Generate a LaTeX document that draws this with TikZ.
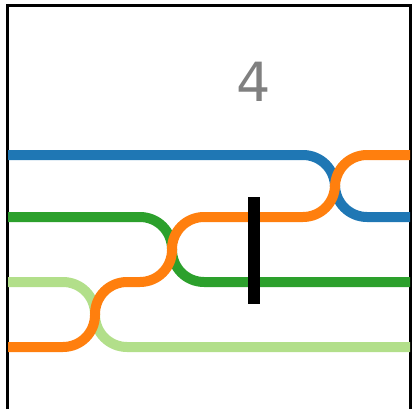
\documentclass[tikz,border=0pt]{standalone}
\usepackage{fontspec}
\setmainfont{DejaVu Sans}
\usetikzlibrary{positioning}
\definecolor{tabblue}{HTML}{1F77B4}
\definecolor{taborange}{HTML}{FF7F0E}
\definecolor{tabgreen}{HTML}{2CA02C}
\definecolor{lightgreen}{HTML}{B2DF8A}
\begin{document}
\begin{tikzpicture}[x=1pt,y=-1pt,
  strand/.style={line width=10pt,rounded corners=32pt},
  frame/.style={line width=2.5pt,black},
  barrier/.style={line width=12pt,black},
  label/.style={font=\fontsize{54}{54}\selectfont,text=gray}
]
\useasboundingbox (0,0) rectangle (414,409);
% Frame (open at the bottom)
\draw[frame] (7.5,409) -- (7.5,5.5) -- (410.5,5.5) -- (410.5,409);
% Step label
\node[label] (steplbl) at (254,82) {4};
% Strands
\draw[strand,tabblue] (8,155) -- (335,155) -- (335,217) -- (410,217);
\draw[strand,tabgreen] (8,217) -- (172,217) -- (172,282) -- (410,282);
\draw[strand,lightgreen] (8,282) -- (95,282) -- (95,347) -- (410,347);
\draw[strand,taborange] (8,347) -- (95,347) -- (95,282) -- (172,282)
  -- (172,217) -- (335,217) -- (335,155) -- (410,155);
% Barrier
\coordinate (bartop) at (254,197);
\coordinate (barbot) at (254,304);
\draw[barrier] (bartop) -- (barbot);
\end{tikzpicture}
\end{document}
